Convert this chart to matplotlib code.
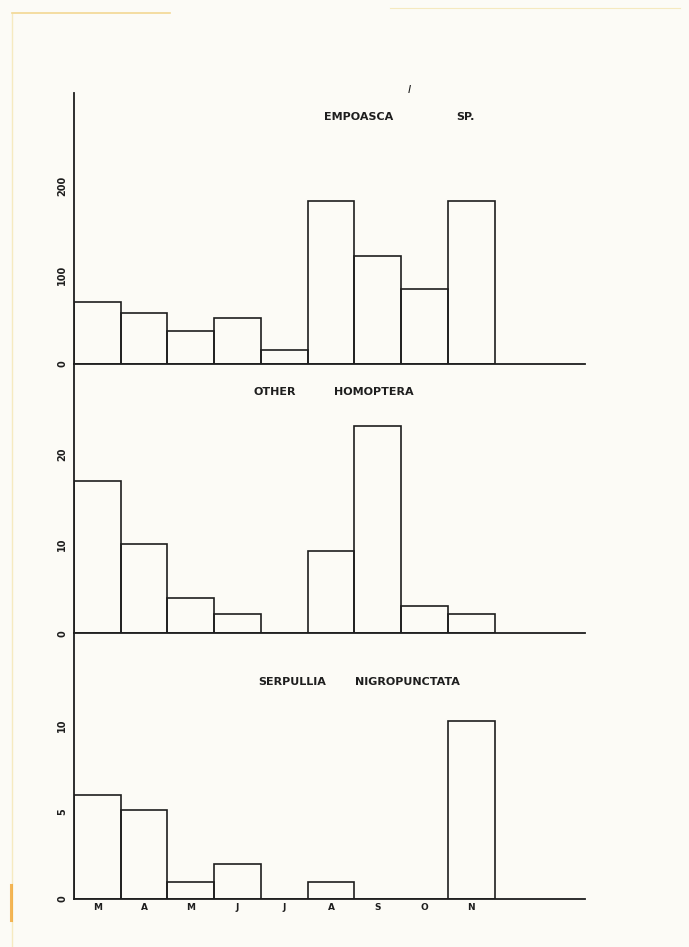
import matplotlib
matplotlib.use("Agg")
import matplotlib.pyplot as plt
from matplotlib.lines import Line2D

# monthly catches, March to November
months = ["M", "A", "M", "J", "J", "A", "S", "O", "N"]
empoasca = [70, 57, 37, 52, 16, 183, 122, 84, 184]
other_homoptera = [17, 10, 4, 2.2, 0, 9.2, 23.2, 3.1, 2.2]
serpullia = [6.0, 5.1, 1.0, 2.0, 0, 1.0, 0, 0, 10.2]

titles = [("EMPOASCA", "SP."), ("OTHER", "HOMOPTERA"), ("SERPULLIA", "NIGROPUNCTATA")]
yticks = [[0, 100, 200], [0, 10, 20], [0, 5, 10]]
ylims = [305, 30.1, 15.25]

ink = "#1e1e1e"
paper = "#fcfbf6"

fig = plt.figure(figsize=(6.89, 9.47), dpi=100, facecolor=paper)

# three stacked panels sharing the month axis
boxes = [
    [0.1074, 0.6156, 0.742, 0.2862],
    [0.1074, 0.3311, 0.742, 0.2845],
    [0.1074, 0.0507, 0.742, 0.2804],
]
# x centre of each title word and y of the title line, in axes fraction
word_x = [(0.556, 0.765), (0.393, 0.587), (0.426, 0.652)]
title_y = [0.911, 0.896, 0.817]
series = [empoasca, other_homoptera, serpullia]

for i, (box, vals) in enumerate(zip(boxes, series)):
    ax = fig.add_axes(box)
    ax.set_facecolor("none")
    ax.bar(range(len(months)), vals, width=1.0, align="edge",
           facecolor="none", edgecolor=ink, linewidth=1.2)
    ax.set_xlim(0, 10.94)
    ax.set_ylim(0, ylims[i])
    for s in ["top", "right"]:
        ax.spines[s].set_visible(False)
    for s in ["left", "bottom"]:
        ax.spines[s].set_color(ink)
        ax.spines[s].set_linewidth(1.3)
    ax.set_yticks(yticks[i])
    ax.set_yticklabels([str(t) for t in yticks[i]], rotation=90, va="center",
                       fontsize=7, fontweight="bold", color=ink)
    ax.tick_params(axis="y", length=0, pad=5)
    if i == 2:
        ax.set_xticks([k + 0.5 for k in range(len(months))])
        ax.set_xticklabels(months, fontsize=6.5, fontweight="bold", color=ink)
        ax.tick_params(axis="x", length=0, pad=3)
    else:
        ax.set_xticks([])
    for word, wx in zip(titles[i], word_x[i]):
        ax.text(wx, title_y[i], word, transform=ax.transAxes, ha="center",
                va="center", fontsize=8, fontweight="bold", color=ink)

# figure number above the first panel
fig.text(409 / 689, 1 - 90 / 947, "I", fontsize=8, style="italic",
         color=ink, ha="center", va="center")

# yellowed page edges
fig.add_artist(Line2D([12 / 689, 12 / 689], [0.0, 1 - 14 / 947],
                      color="#f3df9c", linewidth=1.0, alpha=0.6))
fig.add_artist(Line2D([12 / 689, 170 / 689], [1 - 13 / 947, 1 - 13 / 947],
                      color="#f0cf7a", linewidth=1.2, alpha=0.8))
fig.add_artist(Line2D([390 / 689, 680 / 689], [1 - 8 / 947, 1 - 8 / 947],
                      color="#f3e2a8", linewidth=0.8, alpha=0.7))
fig.add_artist(Line2D([11 / 689, 11 / 689], [1 - 920 / 947, 1 - 885 / 947],
                      color="#f2a531", linewidth=2.2, alpha=0.8))

fig.savefig("out.png", dpi=100, facecolor=paper)
